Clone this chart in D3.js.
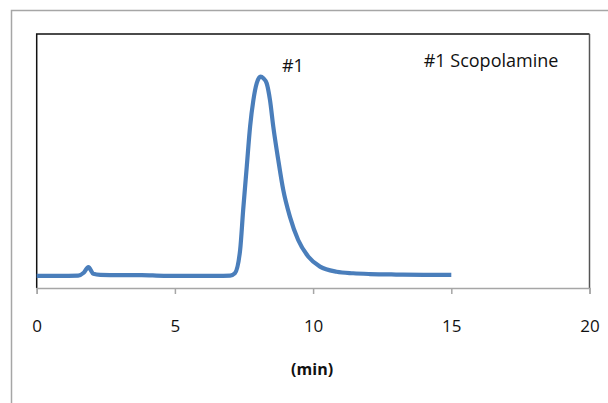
<!DOCTYPE html>
<html>
<head>
<meta charset="utf-8">
<script src="https://cdn.jsdelivr.net/npm/d3@7"></script>
<style>
  body { margin: 0; background: #fff; }
  text { font-family: "Open Sans", sans-serif; fill: #111; }
</style>
</head>
<body>
<svg id="chart" width="608" height="403"></svg>
<script>
// retention time (min) and detector signal
var times = [0, 0.8, 1.5, 1.7, 1.87, 2.05, 2.3, 3.0, 3.8, 4.6, 5.5, 6.5, 7.0, 7.17,
  7.36, 7.47, 7.60, 7.72, 7.84, 7.96, 8.10, 8.20, 8.32, 8.44, 8.56, 8.74, 8.92,
  9.16, 9.46, 9.83, 10.25, 10.85, 11.45, 12.06, 13.0, 14.0, 15.0];
var signal = [4.8, 4.8, 4.9, 6.0, 8.2, 5.6, 5.2, 5.1, 5.1, 4.8, 4.8, 4.8, 4.9, 5.8,
  15.0, 30.7, 47.8, 63.5, 74.0, 80.6, 83.2, 82.6, 80.6, 74.0, 63.5, 50.4, 38.6,
  28.1, 18.9, 12.3, 8.4, 6.4, 5.8, 5.5, 5.3, 5.2, 5.2];
var xTicks = [0, 5, 10, 15, 20];
var peakLabel = {t: 8.15, text: "#1"};
var legendText = "#1 Scopolamine";

var margin = {top: 34, right: 18.5, bottom: 115, left: 36.7},
    width = 608 - margin.left - margin.right,
    height = 403 - margin.top - margin.bottom;

var svg = d3.select("#chart");

// outer chart frame
svg.append("rect")
    .attr("x", 11.5).attr("y", 10.5)
    .attr("width", 700).attr("height", 500)
    .attr("fill", "none")
    .attr("stroke", "#a6a6a6")
    .attr("stroke-width", 1.5);

var g = svg.append("g")
    .attr("transform", "translate(" + margin.left + "," + margin.top + ")");

var x = d3.scaleLinear().domain([0, 20]).range([0, width]);
var y = d3.scaleLinear().domain([0, 100]).range([height, 0]);

// plot area box
g.append("path")
    .attr("d", "M0," + height + "V0H" + width)
    .attr("fill", "none").attr("stroke", "#111").attr("stroke-width", 1.5);
g.append("line")
    .attr("x1", width).attr("x2", width).attr("y1", 0).attr("y2", height)
    .attr("stroke", "#555").attr("stroke-width", 1.5);

var xAxis = d3.axisBottom(x).tickValues(xTicks).tickSize(6).tickPadding(26);

var ax = g.append("g")
    .attr("transform", "translate(0," + height + ")")
    .call(xAxis);
ax.select(".domain").attr("stroke", "#a6a6a6").attr("stroke-width", 1.5);
ax.selectAll(".tick line").attr("stroke", "#a6a6a6").attr("stroke-width", 1.5);
ax.selectAll(".tick text")
    .style("font-family", '"Open Sans", sans-serif')
    .style("font-size", "17px")
    .attr("fill", "#111");

g.append("text")
    .attr("x", x(10) - 1)
    .attr("y", height + 87)
    .attr("text-anchor", "middle")
    .style("font-size", "16px")
    .style("font-weight", "bold")
    .text("(min)");

var pts = times.map(function(t, i) { return [t, signal[i]]; });

var line = d3.line()
    .x(function(d) { return x(d[0]); })
    .y(function(d) { return y(d[1]); })
    .curve(d3.curveMonotoneX);

g.append("path")
    .datum(pts)
    .attr("d", line)
    .attr("fill", "none")
    .attr("stroke", "#4a7ebb")
    .attr("stroke-width", 4.2)
    .attr("stroke-linejoin", "round");

g.append("text")
    .attr("x", x(peakLabel.t) + 31)
    .attr("y", 38)
    .attr("text-anchor", "middle")
    .style("font-size", "18px")
    .text(peakLabel.text);

g.append("text")
    .attr("x", 387)
    .attr("y", 33)
    .style("font-size", "18px")
    .text(legendText);
</script>
</body>
</html>
